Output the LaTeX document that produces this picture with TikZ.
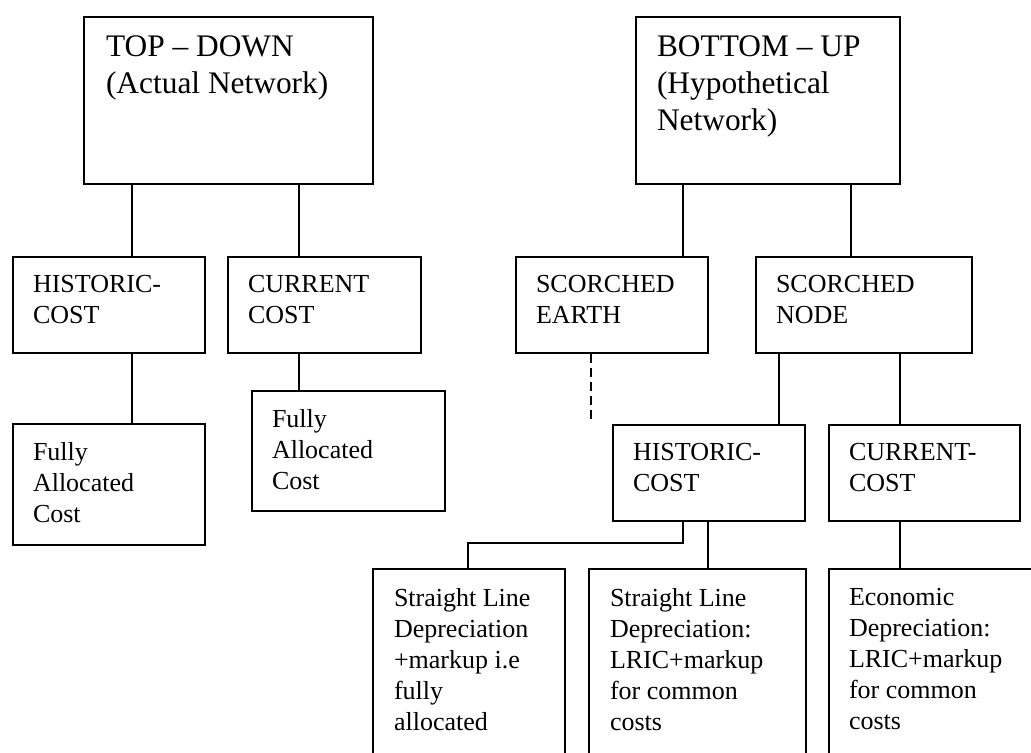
\documentclass[tikz,border=0pt]{standalone}
\usepackage{fontspec}
\setmainfont{Liberation Serif}
\begin{document}
\begin{tikzpicture}[x=0.5pt,y=-0.5pt,line width=1pt,
  box/.style={draw,rectangle,inner sep=0pt,anchor=north west},
  small/.style={anchor=north west,inner sep=0pt,align=left,font=\fontsize{13}{15.5}\selectfont},
  big/.style={anchor=north west,inner sep=0pt,align=left,font=\fontsize{15.7}{18.5}\selectfont}]
\clip (0,0) rectangle (1031,753);
\node [box,minimum width=144.5pt,minimum height=83.5pt] (td) at (83,16) {};
\node [box,minimum width=132pt,minimum height=83.5pt] (bu) at (635,16) {};
\node [box,minimum width=96pt,minimum height=48pt] (hcA) at (12,256) {};
\node [box,minimum width=96.5pt,minimum height=48pt] (ccA) at (227,256) {};
\node [box,minimum width=96pt,minimum height=60.5pt] (facA) at (12,423) {};
\node [box,minimum width=96.5pt,minimum height=60pt] (facB) at (251,390) {};
\node [box,minimum width=96pt,minimum height=48pt] (se) at (515,256) {};
\node [box,minimum width=108pt,minimum height=48pt] (sn) at (755,256) {};
\node [box,minimum width=96pt,minimum height=48pt] (hcB) at (612,424) {};
\node [box,minimum width=95.5pt,minimum height=48pt] (ccB) at (828,424) {};
\node [box,minimum width=96pt,minimum height=100pt] (slA) at (372,568) {};
\node [box,minimum width=108.5pt,minimum height=100pt] (slB) at (588,568) {};
\node [box,minimum width=120pt,minimum height=100pt] (eco) at (828,568) {};
\node [big] (tdtext) at ([shift={(22,19)}]td.north west) {TOP -- DOWN\\(Actual Network)};
\node [big] (butext) at ([shift={(21,19)}]bu.north west) {BOTTOM -- UP\\(Hypothetical\\Network)};
\node [small] (hcAtext) at ([shift={(20,18)}]hcA.north west) {HISTORIC-\\COST};
\node [small] (ccAtext) at ([shift={(20,18)}]ccA.north west) {CURRENT\\COST};
\node [small] (facAtext) at ([shift={(20,18)}]facA.north west) {Fully\\Allocated\\Cost};
\node [small] (facBtext) at ([shift={(20,18)}]facB.north west) {Fully\\Allocated\\Cost};
\node [small] (setext) at ([shift={(20,18)}]se.north west) {SCORCHED\\EARTH};
\node [small] (sntext) at ([shift={(20,18)}]sn.north west) {SCORCHED\\NODE};
\node [small] (hcBtext) at ([shift={(20,18)}]hcB.north west) {HISTORIC-\\COST};
\node [small] (ccBtext) at ([shift={(20,18)}]ccB.north west) {CURRENT-\\COST};
\node [small] (slAtext) at ([shift={(21,19)}]slA.north west) {Straight Line\\Depreciation\\+markup i.e\\fully\\allocated};
\node [small] (slBtext) at ([shift={(21,19)}]slB.north west) {Straight Line\\Depreciation:\\LRIC+markup\\for common\\costs};
\node [small] (ecotext) at ([shift={(20,19)}]eco.north west) {Economic\\Depreciation:\\LRIC+markup\\for common\\costs};
\draw (td.south -| 132,0) -- (hcA.north -| 132,0);
\draw (td.south -| 299,0) -- (ccA.north -| 299,0);
\draw (hcA.south -| 132,0) -- (facA.north -| 132,0);
\draw (ccA.south -| 299,0) -- (facB.north -| 299,0);
\draw (bu.south -| 683,0) -- (se.north -| 683,0);
\draw (bu.south -| 851,0) -- (sn.north -| 851,0);
\coordinate (seend) at (591,424);
\draw [dash pattern=on 4.5pt off 2.5pt] (se.south -| seend) -- (seend);
\draw (sn.south -| 779,0) -- (hcB.north -| 779,0);
\draw (sn.south -| 900,0) -- (ccB.north -| 900,0);
\draw (hcB.south -| 683,0) |- (468,543) -- (slA.north -| 468,0);
\draw (hcB.south -| 708,0) -- (slB.north -| 708,0);
\draw (ccB.south -| 900,0) -- (eco.north -| 900,0);
\end{tikzpicture}
\end{document}
